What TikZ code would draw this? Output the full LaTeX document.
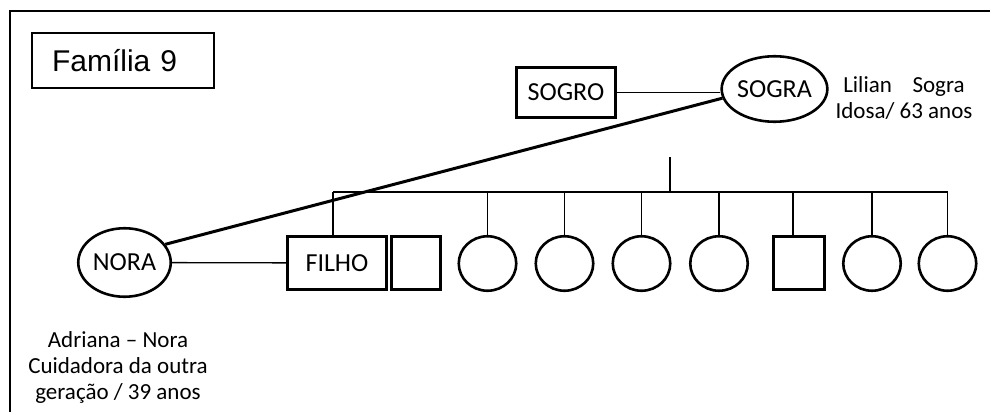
\documentclass[tikz,border=0pt]{standalone}
\usepackage{fontspec}
\setmainfont{Carlito}
\newfontfamily\titlefont{Liberation Sans}
\usetikzlibrary{positioning}
\usetikzlibrary{shapes,arrows}

\tikzset{
  female/.style={ellipse, draw, line width=2.6pt, inner sep=0pt, font=\fontsize{26}{30}\selectfont},
  male/.style={rectangle, draw, line width=2.6pt, inner sep=0pt, font=\fontsize{26}{30}\selectfont},
  note/.style={align=center, font=\fontsize{23}{26}\selectfont},
  tie/.style={line width=1.3pt},
  couple/.style={line width=3pt}
}

\begin{document}
\begin{tikzpicture}[x=1pt, y=-1pt]
  \useasboundingbox (0,0) rectangle (990,412);
  \draw[line width=2pt] (10,412) |- (990,11);
  \node(titulo) [draw, line width=1.3pt, minimum width=182pt, minimum height=55pt, text width=142pt, inner xsep=20pt, align=left, font=\titlefont\fontsize{30}{34}\selectfont] at (123,60.5) {Família 9};
  \node(sogro) [male, minimum width=99.5pt, minimum height=50.5pt] at (566,92.5) {SOGRO};
  \node(sogra) [female, minimum width=92.5pt, minimum height=65.5pt] at (774.5,89) {SOGRA};
  \node(lilian) [note] at (904,98) {Lilian\hspace{0.9em}Sogra\\Idosa/ 63 anos};
  \node(nora) [female, minimum width=92.5pt, minimum height=68.5pt] at (124.5,262.5) {NORA};
  \node(adriana) [note] at (118,367) {Adriana – Nora\\Cuidadora da outra\\geração / 39 anos};
  \node(filho) [male, minimum width=99.5pt, minimum height=53.5pt] at (337,263) {FILHO};
  \node(m1) [male, minimum width=49.5pt, minimum height=53.5pt] at (416,263) {};
  \node(f1) [female, minimum width=57.5pt, minimum height=54.5pt] at (487.5,263.5) {};
  \node(f2) [female, minimum width=57.5pt, minimum height=54.5pt] at (564.5,263.5) {};
  \node(f3) [female, minimum width=57.5pt, minimum height=54.5pt] at (641.5,263.5) {};
  \node(f4) [female, minimum width=57.5pt, minimum height=54.5pt] at (719,263.5) {};
  \node(m2) [male, minimum width=50.5pt, minimum height=53.5pt] at (799,263) {};
  \node(f5) [female, minimum width=57.5pt, minimum height=54.5pt] at (872,263.5) {};
  \node(f6) [female, minimum width=57.5pt, minimum height=54.5pt] at (947.5,263.5) {};
  \coordinate(sib) at (670,157);
  \coordinate(bar) at (670,192);
  \draw[tie] (sogro.east) -- (sogro.east -| sogra.west);
  \draw[couple] (nora.24) -- (sogra.190);
  \draw[tie] (nora) -- (filho);
  \draw[tie] (sib) -- (bar);
  \draw[tie] ([xshift=-4pt]filho.north |- bar) -- (f6.north |- bar);
  \draw[tie] ([xshift=-4pt]filho.north |- bar) -- ([xshift=-4pt]filho.north);
  \draw[tie] (f1.north |- bar) -- (f1.north);
  \draw[tie] (f2.north |- bar) -- (f2.north);
  \draw[tie] (f3.north |- bar) -- (f3.north);
  \draw[tie] (f4.north |- bar) -- (f4.north);
  \draw[tie] ([xshift=-6pt]m2.north |- bar) -- ([xshift=-6pt]m2.north);
  \draw[tie] (f5.north |- bar) -- (f5.north);
  \draw[tie] (f6.north |- bar) -- (f6.north);
\end{tikzpicture}
\end{document}
